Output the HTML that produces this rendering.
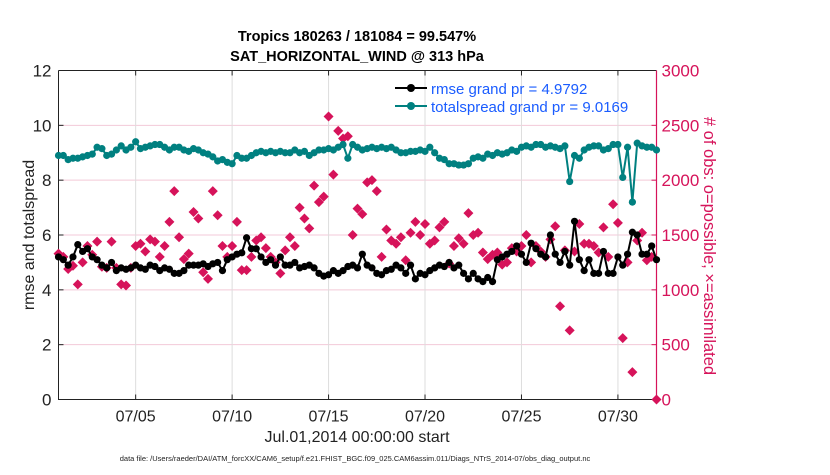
<!DOCTYPE html>
<html><head><meta charset="utf-8"><style>
body{margin:0;background:#fff;}
svg text{font-family:"Liberation Sans",Arial,sans-serif;}
</style></head><body>
<svg id="chart" width="830" height="470" viewBox="0 0 830 470" xmlns="http://www.w3.org/2000/svg">
<rect width="830" height="470" fill="#fff"/>
<g id="grid"></g>
<g id="axes"></g>
<g id="series"></g>
<text x="357" y="41" text-anchor="middle" font-size="14.5" font-weight="bold">Tropics 180263 / 181084 = 99.547%</text>
<text x="357" y="61" text-anchor="middle" font-size="14.5" font-weight="bold">SAT_HORIZONTAL_WIND @ 313 hPa</text>
<text transform="translate(34,235) rotate(-90)" text-anchor="middle" font-size="16" fill="#222">rmse and totalspread</text>
<text transform="translate(704,246) rotate(90)" text-anchor="middle" font-size="16.5" fill="#d6135a"># of obs: o=possible; ×=assimilated</text>
<text x="357" y="442" text-anchor="middle" font-size="16" fill="#222">Jul.01,2014 00:00:00 start</text>
<text x="355" y="461" text-anchor="middle" font-size="7.5" fill="#222">data file: /Users/raeder/DAI/ATM_forcXX/CAM6_setup/f.e21.FHIST_BGC.f09_025.CAM6assim.011/Diags_NTrS_2014-07/obs_diag_output.nc</text>
<g>
<line x1="395" y1="88" x2="427" y2="88" stroke="#000" stroke-width="2"/><circle cx="411" cy="88" r="4" fill="#000"/>
<text x="431" y="94" font-size="15" fill="#1a5cff">rmse grand pr = 4.9792</text>
<line x1="395" y1="106" x2="427" y2="106" stroke="#008080" stroke-width="2"/><circle cx="411" cy="106" r="4" fill="#008080"/>
<text x="431" y="112" font-size="15" fill="#1a5cff">totalspread grand pr = 9.0169</text>
</g>
</svg>
<script>
const rmse=[5.2,5.1,4.9,5.2, 5.65,5.4,5.5,5.2, 5.1,4.9,4.8,5.0, 4.7,4.8,4.75,4.8, 4.9,4.8,4.75,4.9, 4.85,4.7,4.8,4.75, 4.6,4.6,4.7,4.9, 4.9,4.9,4.95,4.85, 4.95,5.0,4.7,5.1, 5.2,5.3,5.35,5.9, 5.5,5.5,5.2,5.0, 5.1,4.9,5.2,4.9, 4.9,5.0,4.8,4.85, 4.9,4.8,4.6,4.5, 4.55,4.7,4.6,4.7, 4.85,4.9,4.8,5.3, 4.9,4.8,4.6,4.55, 4.7,4.75,4.9,4.8, 4.6,4.9,4.4,4.6, 4.55,4.7,4.8,4.9, 4.85,5.0,4.8,4.9, 4.6,4.4,4.6,4.4, 4.3,4.45,4.3,5.1, 5.2,5.3,5.4,5.6, 5.3,5.0,5.7,5.5, 5.3,5.2,6.0,5.3, 5.0,5.4,4.9,6.5, 5.1,4.7,5.1,4.6, 4.6,5.4,4.6,4.6, 5.2,4.9,5.3,6.1, 6.0,5.3,5.3,5.6, 5.1];
const spread=[8.9,8.9,8.75,8.8, 8.8,8.85,8.9,8.95, 9.2,9.15,8.9,8.95, 9.1,9.25,9.1,9.2, 9.4,9.15,9.2,9.25, 9.3,9.3,9.2,9.1, 9.2,9.2,9.1,9.05, 9.15,9.1,9.0,8.95, 8.85,8.7,8.75,8.65, 8.6,8.9,8.8,8.8, 8.9,9.0,9.05,9.0, 9.05,9.0,9.05,9.0, 9.0,9.1,9.0,9.05, 8.9,9.0,9.1,9.1, 9.15,9.1,9.2,9.3, 8.8,9.3,9.2,9.1, 9.15,9.2,9.15,9.2, 9.15,9.2,9.1,9.0, 9.0,9.05,9.05,9.1, 9.05,9.2,9.0,8.8, 8.75,8.6,8.6,8.55, 8.55,8.6,8.8,8.85, 8.8,8.95,8.9,9.0, 8.95,9.0,9.1,9.05, 9.2,9.25,9.2,9.3, 9.3,9.2,9.25,9.2, 9.15,9.25,7.95,8.9, 8.8,9.1,9.2,9.25, 9.25,9.1,9.15,9.3, 9.3,8.1,9.2,7.2, 9.35,9.25,9.2,9.2, 9.1];
const obsCount=[1330,1300,1190,1220, 1050,1250,1400,1320, 1440,1210,1200,1440, 1200,1050,1040,1200, 1400,1420,1350,1460, 1440,1300,1400,1620, 1900,1480,1280,1330, 1710,1650,1160,1100, 1900,1680,1400,1300, 1400,1620,1180,1180, 1300,1450,1480,1380, 1300,1250,1150,1360, 1480,1400,1750,1650, 1560,1950,1800,1850, 2580,2050,2450,2380, 2400,1500,1740,1690, 1980,2000,1900,1300, 1550,1450,1420,1480, 1270,1520,1620,1500, 1600,1420,1450,1570, 1620,1240,1400,1470, 1420,1700,1500,1520, 1340,1280,1320,1340, 1230,1250,1380,1350, 1400,1500,1250,1400, 1350,1300,1460,1580, 850,1360,630,1350, 1600,1420,1420,1400, 1340,1570,1300,1780, 1610,560,1250,250, 1450,1520,1270,1300, 0];
const xTickDays=[5,10,15,20,25,30];
const xTickLabels=["07/05","07/10","07/15","07/20","07/25","07/30"];
const yTicks=[0,2,4,6,8,10,12];
const y2Ticks=[0,500,1000,1500,2000,2500,3000];
const startDay=1, stepDay=0.25;

const L=58.5,R=656.5,T=70.5,B=399.5;
const X=d=>L+(d-1)/31*(R-L);
const Y=v=>B-v/12*(B-T);
const Y2=v=>B-v/3000*(B-T);
const NS="http://www.w3.org/2000/svg";
function mk(tag,attrs,parent){const e=document.createElementNS(NS,tag);for(const k in attrs)e.setAttribute(k,attrs[k]);parent.appendChild(e);return e;}
const grid=document.getElementById('grid'),axes=document.getElementById('axes'),ser=document.getElementById('series');

yTicks.forEach(v=>{if(v>0&&v<12){const g=mk('line',{x1:L,x2:R,y1:Y(v),y2:Y(v),stroke:'#f3c9d8','stroke-width':1},grid);

}
const t=mk('text',{x:L-7,y:Y(v)+6,'text-anchor':'end','font-size':17,fill:'#222'},axes);t.textContent=v;


mk('line',{x1:L,x2:L+5,y1:Y(v),y2:Y(v),stroke:'#222'},axes);});
y2Ticks.forEach(v=>{const t=mk('text',{x:R+5,y:Y2(v)+6,'font-size':17,fill:'#d6135a'},axes);t.textContent=v;


mk('line',{x1:R-5,x2:R,y1:Y2(v),y2:Y2(v),stroke:'#d6135a'},axes);});
xTickDays.forEach((d,i)=>{const g=mk('line',{x1:X(d),x2:X(d),y1:T,y2:B,stroke:'#ddd','stroke-width':1},grid);


mk('line',{x1:X(d),x2:X(d),y1:B,y2:B-5,stroke:'#222'},axes);
mk('line',{x1:X(d),x2:X(d),y1:T,y2:T+5,stroke:'#222'},axes);
const t=mk('text',{x:X(d),y:B+22,'text-anchor':'middle','font-size':16,fill:'#222'},axes);t.textContent=xTickLabels[i];

});
const frame=mk('path',{d:`M${L},${T}H${R}M${L},${T}V${B}H${R}`,fill:'none',stroke:'#222','stroke-width':1},axes);


const rax=mk('line',{x1:R,x2:R,y1:T,y2:B,stroke:'#d6135a','stroke-width':1.2},axes);



obsCount.forEach((v,i)=>{const cx=X(startDay+i*stepDay),cy=Y2(v);
const g=mk('path',{d:`M${cx},${cy-5}L${cx+5},${cy}L${cx},${cy+5}L${cx-5},${cy}Z`,fill:'#d6135a'},ser);

});

function line(arr,color,name){const pts=arr.map((v,i)=>[X(startDay+i*stepDay),Y(v)]);
const p=mk('polyline',{points:pts.map(p=>p.join(',')).join(' '),fill:'none',stroke:color,'stroke-width':2},ser);


pts.forEach(q=>{const c=mk('circle',{cx:q[0],cy:q[1],r:3.6,fill:color},ser);

});}
line(spread,'#008080','totalspread');
line(rmse,'#000','rmse');
</script>
</body></html>
